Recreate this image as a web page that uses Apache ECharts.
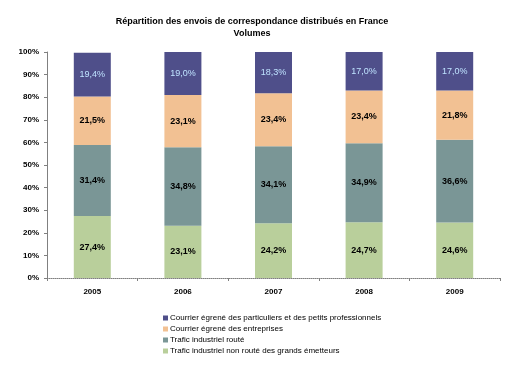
<!DOCTYPE html>
<html><head><meta charset="utf-8">
<script src="https://cdn.jsdelivr.net/npm/echarts@6/dist/echarts.min.js"></script>
<style>html,body{margin:0;padding:0;background:#fff}#c{width:515px;height:366px}</style>
</head><body><div id="c"></div>
<script>
var categories = ['2005','2006','2007','2008','2009'];
var seriesNames = [
  'Trafic industriel non routé des grands émetteurs',
  'Trafic industriel routé',
  'Courrier égrené des entreprises',
  'Courrier égrené des particuliers et des petits professionnels'
];
var nonRoute = [27.4, 23.1, 24.2, 24.7, 24.6];
var route = [31.4, 34.8, 34.1, 34.9, 36.6];
var entreprises = [21.5, 23.1, 23.4, 23.4, 21.8];
var particuliers = [19.4, 19.0, 18.3, 17.0, 17.0];
var yTicks = [0,10,20,30,40,50,60,70,80,90,100];

var colors = ['#b9cf9b', '#7a9696', '#f2c193', '#4f4f8a'];
var labelColors = ['#000', '#000', '#000', '#bfe3ff'];
var dataSets = [nonRoute, route, entreprises, particuliers];

var series = dataSets.map(function(d, i){
  return {
    name: seriesNames[i], type: 'bar', stack: 's', barWidth: 37,
    data: d,
    itemStyle: {color: colors[i]},
    label: {show: true, position: 'inside', color: labelColors[i],
      fontFamily: 'Liberation Sans', fontWeight: i===3?'normal':'bold', fontSize: 9,
      formatter: function(p){ return p.value.toFixed(1).replace('.', ',') + '%'; }}
  };
});

var chart = echarts.init(document.getElementById('c'));
chart.setOption({
  animation: false,
  title: {
    text: 'Répartition des envois de correspondance distribués en France\nVolumes',
    left: 247, top: 11, textAlign: 'center',
    textStyle: {fontFamily: 'Liberation Sans', fontSize: 9, fontWeight: 'bold', color: '#000', lineHeight: 12}
  },
  legend: {
    orient: 'vertical', left: 163, top: 313, height: 54, width: 300, padding: 0, itemWidth: 5, itemHeight: 5, itemGap: 1,
    data: seriesNames.slice().reverse(),
    textStyle: {fontFamily: 'Liberation Sans', fontSize: 8, lineHeight: 10, color: '#000', padding: [0,0,0,-3]},
    icon: 'rect'
  },
  grid: {left: 47, right: 15, top: 52, bottom: 88},
  xAxis: {
    type: 'category', data: categories,
    axisLine: {lineStyle: {color: '#808080', type: 'dotted'}},
    axisTick: {show: true, alignWithLabel: false, length: 3, lineStyle: {color: '#808080'}},
    axisLabel: {fontFamily: 'Liberation Sans', fontSize: 8, fontWeight: 'bold', color: '#000', margin: 10}
  },
  yAxis: {
    type: 'value', min: 0, max: 100, interval: 10,
    axisLine: {show: true, lineStyle: {color: '#808080'}},
    axisTick: {show: true, length: 3, lineStyle: {color: '#808080'}},
    splitLine: {show: false},
    axisLabel: {fontFamily: 'Liberation Sans', fontSize: 8, fontWeight: 'bold', color: '#000', margin: 8,
      formatter: function(v){ return yTicks.indexOf(v) >= 0 ? v + '%' : ''; }}
  },
  series: series
});
</script></body></html>
